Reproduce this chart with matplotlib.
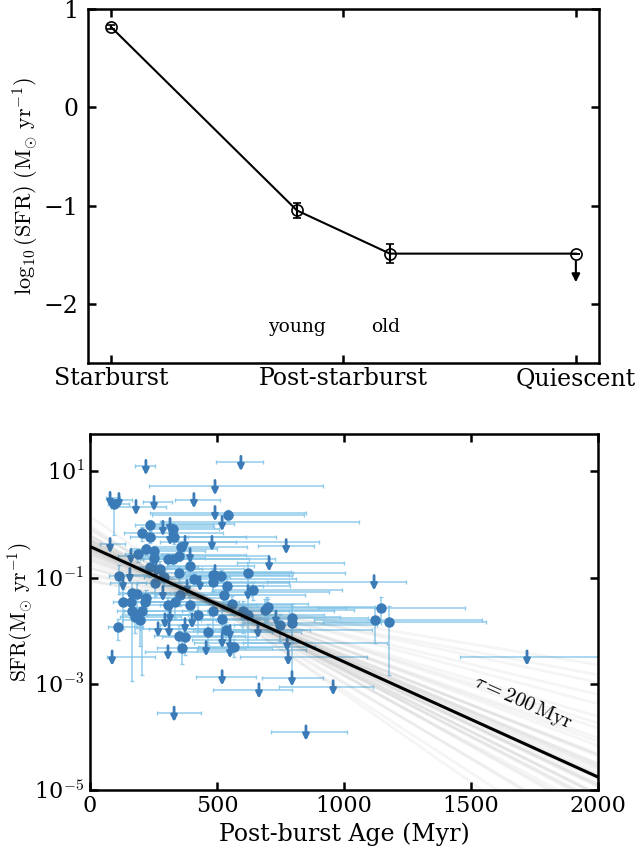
import numpy as np
import matplotlib
matplotlib.use("Agg")
import matplotlib.pyplot as plt
from matplotlib.ticker import NullLocator

# ---------------- top panel: mean SFR per stage ----------------
stage_ticks = [0, 1, 2]
stage_names = ["Starburst", "Post-starburst", "Quiescent"]
stage_x = [0.0, 0.8, 1.2, 2.0]
stage_logsfr = [0.82, -1.05, -1.49, -1.49]
stage_err = [0.02, 0.08, 0.10, 0.0]
stage_sub = ["young", "old"]
stage_sub_x = [0.8, 1.18]

# ---------------- bottom panel: SFR vs post-burst age ----------------
det_age = [94, 543, 236, 327, 205, 236, 331, 358, 220, 252,
           189, 350, 252, 307, 327, 394, 236, 276, 622, 484,
           516, 350, 114, 291, 409, 484, 256, 539, 642, 165,
           185, 528, 354, 130, 161, 217, 220, 307, 335, 394,
           559, 689, 701, 484, 602, 165, 205, 177, 197, 185,
           425, 520, 465, 535, 748, 795, 795, 110, 350, 374,
           567, 362, 1146, 1122, 1177, 622, 697]
det_sfr = [2.38, 1.48, 0.96, 0.84, 0.68, 0.57, 0.57, 0.37, 0.34, 0.31,
           0.28, 0.26, 0.23, 0.22, 0.22, 0.168, 0.161, 0.148, 0.124, 0.114,
           0.109, 0.124, 0.109, 0.104, 0.096, 0.084, 0.080, 0.068, 0.059, 0.052,
           0.050, 0.048, 0.046, 0.034, 0.034, 0.035, 0.042, 0.031, 0.034, 0.031,
           0.032, 0.025, 0.028, 0.023, 0.023, 0.023, 0.023, 0.018, 0.016, 0.020,
           0.020, 0.0168, 0.0096, 0.0104, 0.013, 0.0176, 0.0142, 0.0119, 0.0080, 0.0077,
           0.0050, 0.0048, 0.027, 0.016, 0.0148, 0.020, 0.027]
det_age_lo = [25, 300, 60, 90, 70, 80, 120, 100, 60, 90,
              50, 110, 70, 100, 130, 90, 60, 80, 150, 120,
              140, 100, 40, 80, 110, 130, 70, 150, 160, 50,
              60, 140, 100, 40, 50, 70, 60, 90, 100, 120,
              150, 170, 160, 120, 140, 60, 70, 60, 70, 60,
              110, 130, 110, 130, 180, 200, 190, 40, 100, 90,
              140, 100, 250, 240, 260, 150, 170]
det_age_hi = [60, 300, 250, 180, 320, 150, 400, 260, 280, 200,
              180, 350, 200, 420, 300, 250, 190, 330, 380, 300,
              280, 450, 120, 260, 400, 300, 200, 250, 350, 150,
              200, 320, 280, 90, 180, 250, 300, 350, 250, 400,
              300, 350, 420, 300, 360, 150, 220, 180, 240, 200,
              300, 280, 250, 330, 380, 300, 350, 100, 260, 280,
              320, 250, 330, 420, 380, 300, 310]
det_dex_lo = [0.57, 0.10, 0.10, 0.12, 0.15, 0.10, 0.12, 0.15, 0.10, 0.12,
              0.15, 0.10, 0.20, 0.12, 0.10, 0.15, 0.20, 0.25, 0.30, 0.15,
              0.12, 0.20, 0.35, 0.15, 0.12, 0.18, 0.25, 0.30, 0.20, 0.40,
              0.30, 0.15, 0.20, 0.50, 0.30, 0.25, 0.20, 0.25, 0.30, 0.20,
              0.20, 0.25, 0.20, 0.35, 0.40, 1.30, 1.20, 0.30, 0.50, 0.25,
              0.30, 0.25, 0.25, 0.20, 0.30, 0.40, 1.07, 0.25, 0.30, 0.35,
              0.20, 0.30, 0.25, 0.43, 1.00, 0.60, 0.25]
det_dex_hi = [0.05, 0.10, 0.10, 0.10, 0.12, 0.08, 0.10, 0.12, 0.10, 0.10,
              0.10, 0.08, 0.12, 0.10, 0.08, 0.10, 0.15, 0.15, 0.20, 0.12,
              0.10, 0.12, 0.20, 0.10, 0.10, 0.12, 0.15, 0.20, 0.15, 0.20,
              0.20, 0.12, 0.12, 0.25, 0.20, 0.15, 0.15, 0.15, 0.20, 0.15,
              0.15, 0.20, 0.15, 0.20, 0.20, 0.25, 0.25, 0.20, 0.25, 0.15,
              0.20, 0.20, 0.15, 0.15, 0.20, 0.25, 0.30, 0.15, 0.20, 0.20,
              0.15, 0.20, 0.20, 0.23, 0.30, 0.60, 0.20]

# upper limits
ul_age = [220, 594, 492, 79, 114, 181, 252, 409, 492, 520,
          287, 315, 315, 480, 374, 79, 772, 161, 394, 705,
          260, 492, 157, 130, 433, 382, 622, 287, 1118, 732,
          295, 315, 402, 374, 661, 268, 311, 551, 520, 551,
          457, 776, 307, 87, 551, 780, 520, 795, 665, 957,
          331, 850, 1720]
ul_sfr = [12.4, 14.8, 5.2, 3.1, 2.95, 2.18, 2.6, 2.95, 1.68, 1.09,
          0.88, 1.0, 0.59, 0.46, 0.46, 0.42, 0.40, 0.26, 0.27, 0.19,
          0.148, 0.13, 0.114, 0.080, 0.080, 0.068, 0.054, 0.052, 0.084, 0.018,
          0.016, 0.020, 0.016, 0.013, 0.0104, 0.0109, 0.0109, 0.0096, 0.0068, 0.0059,
          0.0048, 0.0059, 0.0040, 0.0032, 0.0044, 0.0032, 0.00136, 0.0013, 0.00077, 0.00088,
          0.00028, 0.000124, 0.0032]
ul_age_lo = [43, 100, 260, 15, 20, 100, 43, 74, 256, 245,
             60, 70, 60, 150, 100, 40, 111, 50, 110, 126,
             60, 120, 60, 50, 120, 100, 140, 80, 420, 130,
             80, 90, 100, 100, 100, 70, 80, 130, 120, 140,
             110, 174, 90, 20, 130, 190, 103, 118, 181, 213,
             67, 137, 263]
ul_age_hi = [36, 85, 425, 40, 50, 120, 71, 103, 358, 540,
             200, 250, 300, 420, 200, 60, 110, 150, 220, 295,
             180, 300, 100, 90, 350, 300, 320, 220, 125, 250,
             200, 250, 300, 220, 450, 180, 200, 280, 280, 300,
             260, 394, 250, 170, 300, 310, 134, 122, 130, 157,
             106, 162, 400]

# exponential decline: best fit and posterior draws (SFR at 450 Myr, tau in Myr)
best_sfr0, best_tau = 0.385, 200.0
fan_tau = [130, 140, 150, 155, 160, 165, 170, 172, 175, 178,
           180, 183, 185, 188, 190, 192, 195, 197, 200, 202,
           205, 208, 210, 213, 215, 220, 225, 230, 235, 240,
           250, 260, 275, 290, 310, 340, 380, 430, 490, 550]
fan_norm = [0.045, 0.038, 0.042, 0.035, 0.047, 0.040, 0.036, 0.044, 0.041, 0.038,
            0.043, 0.039, 0.037, 0.045, 0.040, 0.042, 0.036, 0.041, 0.039, 0.043,
            0.037, 0.040, 0.044, 0.038, 0.041, 0.036, 0.042, 0.039, 0.035, 0.043,
            0.040, 0.037, 0.041, 0.038, 0.036, 0.040, 0.037, 0.039, 0.035, 0.038]
fan_pivot = 450.0

plt.rcParams["font.family"] = "DejaVu Serif"
plt.rcParams["mathtext.fontset"] = "cm"

fig = plt.figure(figsize=(6.36, 8.49), dpi=100)
ax1 = fig.add_axes([0.138, 0.573, 0.804, 0.416])
ax2 = fig.add_axes([0.1415, 0.0695, 0.799, 0.419])

# ---------- top ----------
ax1.errorbar(stage_x, stage_logsfr, yerr=stage_err, color="k", lw=1.5,
             marker="o", mfc="none", mec="k", ms=8, mew=1.2, capsize=3, elinewidth=1.5)
ax1.annotate("", xy=(stage_x[-1], stage_logsfr[-1] - 0.32), xytext=(stage_x[-1], stage_logsfr[-1] - 0.05),
             arrowprops=dict(arrowstyle="-|>", color="k", lw=1.5, mutation_scale=12))
for lab, xx in zip(stage_sub, stage_sub_x):
    ax1.text(xx, -2.24, lab, ha="center", va="center", fontsize=13.5)
ax1.set_xlim(-0.1, 2.1)
ax1.set_ylim(-2.6, 1.0)
ax1.set_xticks(stage_ticks)
ax1.set_xticklabels(stage_names)
ax1.set_yticks([1, 0, -1, -2])
ax1.set_ylabel(r"$\log_{10}(\mathrm{SFR})\ (\mathrm{M_{\odot}\ yr^{-1}})$", fontsize=16)
ax1.yaxis.set_label_coords(-0.092, 0.5)

# ---------- bottom ----------
det_age = np.array(det_age, float)
det_sfr = np.array(det_sfr)
ylo = det_sfr * (1 - 10 ** (-np.array(det_dex_lo)))
yhi = det_sfr * (10 ** np.array(det_dex_hi) - 1)
ax2.errorbar(det_age, det_sfr, xerr=[det_age_lo, det_age_hi], yerr=[ylo, yhi], fmt="none",
             ecolor="#7fc3e8", elinewidth=1.1, capsize=1.5, capthick=1.0, alpha=0.85, zorder=2)
ax2.plot(det_age, det_sfr, "o", color="#3b7cb8", ms=6.5, zorder=3)
ax2.errorbar(ul_age, ul_sfr, xerr=[ul_age_lo, ul_age_hi], fmt="none",
             ecolor="#7fc3e8", elinewidth=1.1, capsize=1.5, capthick=1.0, alpha=0.85, zorder=2)
for xx, yy in zip(ul_age, ul_sfr):
    ax2.annotate("", xy=(xx, yy * 0.68), xytext=(xx, yy * 1.3),
                 arrowprops=dict(arrowstyle="-|>", color="#3b7cb8", lw=2, mutation_scale=9,
                                 shrinkA=0, shrinkB=0), zorder=3)

t = np.linspace(0, 2000, 200)
for tau, nrm in zip(fan_tau, fan_norm):
    ax2.plot(t, nrm * np.exp(-(t - fan_pivot) / tau), color="0.35", alpha=0.06, lw=2, zorder=4)
ax2.plot(t, best_sfr0 * np.exp(-t / best_tau), color="k", lw=2.2, zorder=5)
ax2.text(1705, 4.4e-4, r"$\tau = 200\,\mathrm{Myr}$", rotation=-24, ha="center", va="center",
         fontsize=15, zorder=6)

ax2.set_yscale("log")
ax2.set_xlim(0, 2000)
ax2.set_ylim(1e-5, 50)
ax2.set_yticks([1e1, 1e-1, 1e-3, 1e-5])
ax2.set_yticklabels(["10$^{1}$", "10$^{\\mathrm{-1}}$", "10$^{\\mathrm{-3}}$", "10$^{\\mathrm{-5}}$"])
ax2.yaxis.set_minor_locator(NullLocator())
ax2.set_xticks([0, 500, 1000, 1500, 2000])
ax2.set_xlabel("Post-burst Age (Myr)", fontsize=17)
ax2.set_ylabel(r"$\mathrm{SFR}(\mathrm{M_{\odot}\ yr^{-1}})$", fontsize=15.5)
ax2.yaxis.set_label_coords(-0.108, 0.5)

for ax in (ax1, ax2):
    ax.tick_params(direction="in", length=6, width=1.8, top=True, right=True)
    for s in ax.spines.values():
        s.set_linewidth(1.8)
ax1.tick_params(labelsize=17)
ax1.tick_params(axis="y", pad=7)
ax2.tick_params(labelsize=16)
ax2.tick_params(axis="y", pad=4)

fig.savefig("out.png", dpi=100)
